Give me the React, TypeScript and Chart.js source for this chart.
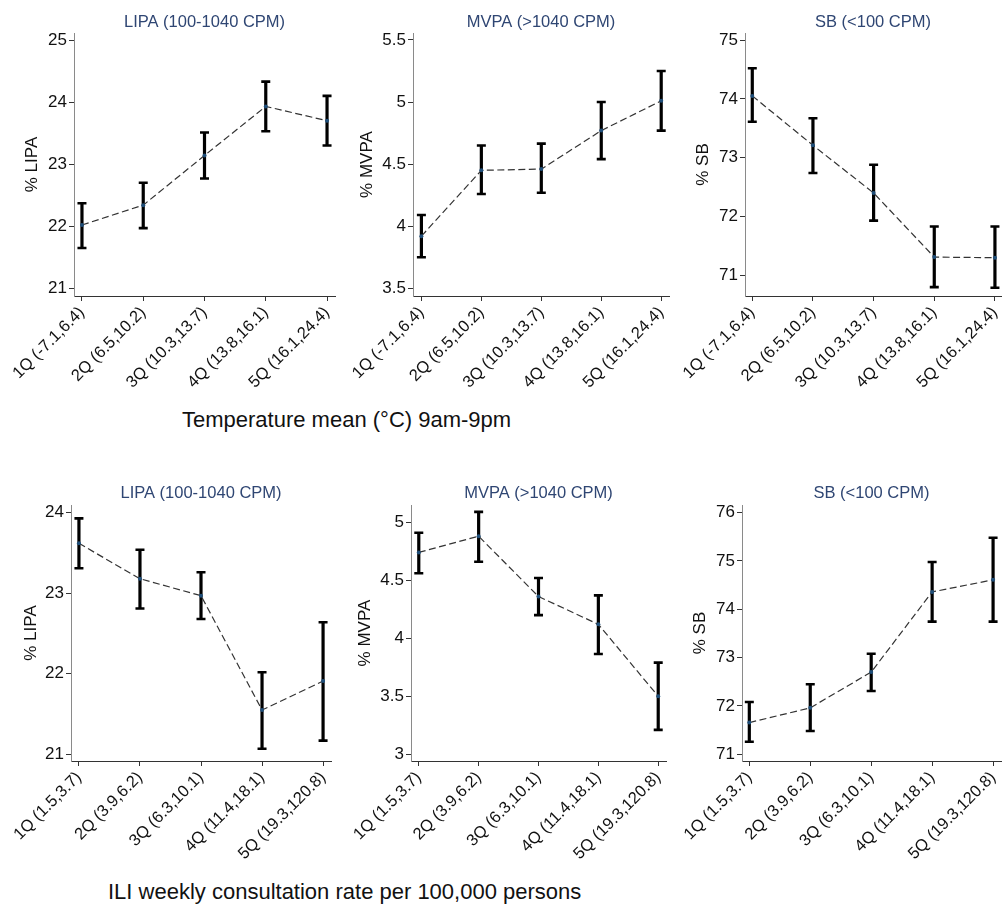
import React, { useEffect, useRef } from "react";
import { Chart, registerables } from "chart.js";

Chart.register(...registerables);

// ---------- DATA ----------
const tempLabels = ["1Q (-7.1,6.4)", "2Q (6.5,10.2)", "3Q (10.3,13.7)", "4Q (13.8,16.1)", "5Q (16.1,24.4)"];
const iliLabels = ["1Q (1.5,3.7)", "2Q (3.9,6.2)", "3Q (6.3,10.1)", "4Q (11.4,18.1)", "5Q (19.3,120.8)"];

// Temperature row
const lipaTempMean = [22.02, 22.34, 23.14, 23.93, 23.7];
const lipaTempLo = [21.65, 21.97, 22.77, 23.53, 23.3];
const lipaTempHi = [22.37, 22.7, 23.51, 24.33, 24.1];

const mvpaTempMean = [3.92, 4.45, 4.46, 4.77, 5.01];
const mvpaTempLo = [3.75, 4.26, 4.27, 4.54, 4.77];
const mvpaTempHi = [4.09, 4.65, 4.665, 5.0, 5.25];

const sbTempMean = [74.05, 73.21, 72.4, 71.31, 71.3];
const sbTempLo = [73.61, 72.74, 71.93, 70.8, 70.79];
const sbTempHi = [74.52, 73.67, 72.88, 71.83, 71.83];

// ILI row
const lipaIliMean = [23.62, 23.18, 22.97, 21.55, 21.91];
const lipaIliLo = [23.31, 22.81, 22.68, 21.07, 21.17];
const lipaIliHi = [23.93, 23.54, 23.26, 22.02, 22.64];

const mvpaIliMean = [4.74, 4.88, 4.36, 4.12, 3.5];
const mvpaIliLo = [4.56, 4.66, 4.2, 3.865, 3.21];
const mvpaIliHi = [4.91, 5.09, 4.52, 4.37, 3.79];

const sbIliMean = [71.655, 71.96, 72.7, 74.36, 74.61];
const sbIliLo = [71.26, 71.48, 72.31, 73.745, 73.745];
const sbIliHi = [72.08, 72.45, 73.08, 74.98, 75.48];

// Tick values
const lipaTempTicks = [21, 22, 23, 24, 25];
const mvpaTempTicks = [3.5, 4, 4.5, 5, 5.5];
const sbTempTicks = [71, 72, 73, 74, 75];
const lipaIliTicks = [21, 22, 23, 24];
const mvpaIliTicks = [3, 3.5, 4, 4.5, 5];
const sbIliTicks = [71, 72, 73, 74, 75, 76];

const panelTitles = ["LIPA (100-1040 CPM)", "MVPA (>1040 CPM)", "SB (<100 CPM)"];
const yTitles = ["% LIPA", "% MVPA", "% SB"];
const tempCaption = "Temperature mean (\u00B0C) 9am-9pm";
const iliCaption = "ILI weekly consultation rate per 100,000 persons";

// ---------- STYLE / GEOMETRY ----------
const FONT = "'Liberation Sans', Arial, Helvetica, sans-serif";
const TITLE_COLOR = "#2f4673";
const TEXT_COLOR = "#111111";

type Panel = {
  title: string;
  yTitle: string;
  labels: string[];
  mean: number[];
  lo: number[];
  hi: number[];
  ticks: number[];
  yMin: number;
  yMax: number;
  xMin: number;
  xMax: number;
  left: number;
  top: number;
  width: number;
  height: number;
  yWidth: number;
  xHeight: number;
  padRight: number;
  titlePadTop: number;
  titlePadBottom: number;
  yTitlePad: number;
};

const panels: Panel[] = [
  {
    title: panelTitles[0], yTitle: yTitles[0], labels: tempLabels,
    mean: lipaTempMean, lo: lipaTempLo, hi: lipaTempHi, ticks: lipaTempTicks,
    yMin: 20.876, yMax: 25.113, xMin: -0.13, xMax: 4.13,
    left: 0, top: 0, width: 345, height: 400, yWidth: 74, xHeight: 104, padRight: 10,
    titlePadTop: 12.1, titlePadBottom: 1.1, yTitlePad: 22.2,
  },
  {
    title: panelTitles[1], yTitle: yTitles[1], labels: tempLabels,
    mean: mvpaTempMean, lo: mvpaTempLo, hi: mvpaTempHi, ticks: mvpaTempTicks,
    yMin: 3.438, yMax: 5.556, xMin: -0.14, xMax: 4.13,
    left: 330, top: 0, width: 350, height: 400, yWidth: 83, xHeight: 104, padRight: 11,
    titlePadTop: 12.1, titlePadBottom: 1.1, yTitlePad: 27.2,
  },
  {
    title: panelTitles[2], yTitle: yTitles[2], labels: tempLabels,
    mean: sbTempMean, lo: sbTempLo, hi: sbTempHi, ticks: sbTempTicks,
    yMin: 70.649, yMax: 75.119, xMin: -0.12, xMax: 4.1,
    left: 665, top: 0, width: 340, height: 400, yWidth: 80, xHeight: 104, padRight: 1,
    titlePadTop: 12.1, titlePadBottom: 1.1, yTitlePad: 28.2,
  },
  {
    title: panelTitles[0], yTitle: yTitles[0], labels: iliLabels,
    mean: lipaIliMean, lo: lipaIliLo, hi: lipaIliHi, ticks: lipaIliTicks,
    yMin: 20.917, yMax: 24.096, xMin: -0.13, xMax: 4.13,
    left: 0, top: 470, width: 341, height: 400, yWidth: 71, xHeight: 109, padRight: 10,
    titlePadTop: 13.1, titlePadBottom: 2.1, yTitlePad: 21.2,
  },
  {
    title: panelTitles[1], yTitle: yTitles[1], labels: iliLabels,
    mean: mvpaIliMean, lo: mvpaIliLo, hi: mvpaIliHi, ticks: mvpaIliTicks,
    yMin: 2.942, yMax: 5.149, xMin: -0.13, xMax: 4.13,
    left: 330, top: 470, width: 346, height: 400, yWidth: 81, xHeight: 109, padRight: 10,
    titlePadTop: 13.1, titlePadBottom: 2.1, yTitlePad: 25.2,
  },
  {
    title: panelTitles[2], yTitle: yTitles[2], labels: iliLabels,
    mean: sbIliMean, lo: sbIliLo, hi: sbIliHi, ticks: sbIliTicks,
    yMin: 70.86, yMax: 76.159, xMin: -0.12, xMax: 4.13,
    left: 665, top: 470, width: 340, height: 400, yWidth: 77, xHeight: 109, padRight: 3,
    titlePadTop: 13.1, titlePadBottom: 2.1, yTitlePad: 25.2,
  },
];

// Error bars drawn through the chart's own scales
const errorBarPlugin = {
  id: "errorBars",
  beforeDatasetsDraw(chart: any) {
    const ds: any = chart.data.datasets[0];
    const lo: number[] = ds.errLo;
    const hi: number[] = ds.errHi;
    if (!lo || !hi) return;
    const xs = chart.scales.x;
    const ys = chart.scales.y;
    const ctx = chart.ctx;
    ctx.save();
    ctx.strokeStyle = "#000000";
    ctx.lineCap = "butt";
    for (let i = 0; i < lo.length; i++) {
      const x = xs.getPixelForValue(i);
      const yl = ys.getPixelForValue(lo[i]);
      const yh = ys.getPixelForValue(hi[i]);
      ctx.lineWidth = 3.2;
      ctx.beginPath();
      ctx.moveTo(x, yl);
      ctx.lineTo(x, yh);
      ctx.stroke();
      ctx.lineWidth = 2.6;
      ctx.beginPath();
      ctx.moveTo(x - 4.5, yh);
      ctx.lineTo(x + 4.5, yh);
      ctx.moveTo(x - 4.5, yl);
      ctx.lineTo(x + 4.5, yl);
      ctx.stroke();
    }
    ctx.restore();
  },
};

function buildConfig(p: Panel): any {
  const points = p.mean.map((v, i) => ({ x: i, y: v }));
  return {
    type: "line",
    data: {
      datasets: [
        {
          data: points,
          errLo: p.lo,
          errHi: p.hi,
          borderColor: "#333333",
          borderWidth: 1.2,
          borderDash: [7, 3.5],
          pointRadius: 2,
          pointBackgroundColor: "#1f4e79",
          pointBorderWidth: 0,
          fill: false,
          tension: 0,
        },
      ],
    },
    plugins: [errorBarPlugin],
    options: {
      responsive: false,
      animation: false,
      devicePixelRatio: 1,
      layout: { padding: { left: 0, top: 0, right: p.padRight, bottom: 0 } },
      plugins: {
        legend: { display: false },
        tooltip: { enabled: false },
        title: {
          display: true,
          text: p.title,
          color: TITLE_COLOR,
          fullSize: false,
          align: "center",
          font: { family: FONT, size: 16.5, weight: "normal" },
          padding: { top: p.titlePadTop, bottom: p.titlePadBottom },
        },
      },
      scales: {
        x: {
          type: "linear",
          min: p.xMin,
          max: p.xMax,
          afterBuildTicks: (scale: any) => {
            scale.ticks = p.labels.map((_, i) => ({ value: i }));
          },
          afterFit: (scale: any) => {
            scale.height = p.xHeight;
            scale.paddingLeft = 0;
            scale.paddingRight = 0;
          },
          ticks: {
            autoSkip: false,
            minRotation: 45,
            maxRotation: 45,
            padding: 2,
            color: TEXT_COLOR,
            font: { family: FONT, size: 16.5 },
            callback: (v: any) => p.labels[Math.round(Number(v))] ?? "",
          },
          grid: {
            drawOnChartArea: false,
            drawTicks: true,
            tickLength: 5,
            color: "#333333",
            lineWidth: 1,
          },
          border: { display: true, color: "#333333", width: 1 },
        },
        y: {
          type: "linear",
          min: p.yMin,
          max: p.yMax,
          afterBuildTicks: (scale: any) => {
            scale.ticks = p.ticks.map((v) => ({ value: v }));
          },
          afterFit: (scale: any) => {
            scale.width = p.yWidth;
            scale.paddingTop = 0;
            scale.paddingBottom = 0;
          },
          ticks: {
            padding: 2,
            color: TEXT_COLOR,
            font: { family: FONT, size: 17 },
            callback: (v: any) => String(v),
          },
          grid: {
            drawOnChartArea: false,
            drawTicks: true,
            tickLength: 5,
            color: "#333333",
            lineWidth: 1,
          },
          border: { display: true, color: "#8a8a8a", width: 1 },
          title: {
            display: true,
            text: p.yTitle,
            color: TEXT_COLOR,
            font: { family: FONT, size: 17 },
            padding: { top: p.yTitlePad, bottom: 0 },
          },
        },
      },
    },
  };
}

function PanelChart({ p }: { p: Panel }) {
  const ref = useRef<HTMLCanvasElement | null>(null);
  useEffect(() => {
    if (!ref.current) return;
    const chart = new Chart(ref.current, buildConfig(p));
    return () => chart.destroy();
  }, [p]);
  return (
    <canvas
      ref={ref}
      width={p.width}
      height={p.height}
      style={{
        position: "absolute",
        left: p.left,
        top: p.top,
        width: p.width,
        height: p.height,
      }}
    />
  );
}

export default function App() {
  return (
    <div
      style={{
        position: "absolute",
        left: 0,
        top: 0,
        width: 1005,
        height: 904,
        background: "#ffffff",
        overflow: "hidden",
        fontFamily: FONT,
      }}
    >
      {panels.map((p, i) => (
        <PanelChart key={i} p={p} />
      ))}
      <div
        style={{
          position: "absolute",
          left: 182,
          top: 407,
          fontSize: 22,
          lineHeight: "26px",
          color: TEXT_COLOR,
          whiteSpace: "nowrap",
        }}
      >
        {tempCaption}
      </div>
      <div
        style={{
          position: "absolute",
          left: 108,
          top: 879,
          fontSize: 22,
          lineHeight: "26px",
          color: TEXT_COLOR,
          whiteSpace: "nowrap",
        }}
      >
        {iliCaption}
      </div>
    </div>
  );
}
